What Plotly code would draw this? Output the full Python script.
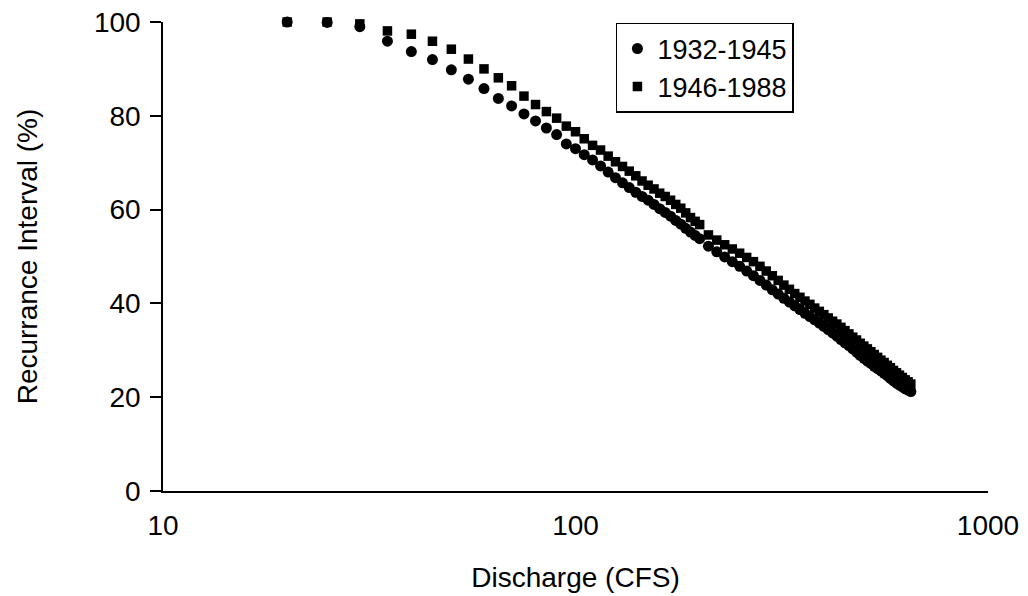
import plotly.graph_objects as go

# Discharge (CFS) values (shared by both periods)
discharge = [20, 25, 30, 35, 40, 45, 50, 55, 60, 65, 70, 75, 80, 85, 90, 95, 100,
             105, 110, 115, 120, 125, 130, 135, 140, 145, 150, 155, 160, 165, 170,
             175, 180, 185, 190, 195, 200,
             210, 220, 230, 240, 250, 260, 270, 280, 290, 300, 310, 320, 330, 340,
             350, 360, 370, 380, 390, 400, 410, 420, 430, 440, 450, 460, 470, 480,
             490, 500, 510, 520, 530, 540, 550, 560, 570, 580, 590, 600, 610, 620,
             630, 640, 650]

# Recurrance interval (%) 1932-1945
ri_1932_1945 = [100.0, 99.9, 99.0, 95.9, 93.7, 92.0, 89.8, 87.8, 85.8, 83.7, 82.1, 80.4,
                78.9, 77.4, 76.0, 74.0, 73.0, 71.7, 70.6, 69.3, 68.0, 66.8, 65.7, 64.7,
                63.7, 62.8, 62.0, 61.1, 60.2, 59.4, 58.6, 57.7, 56.9, 56.0, 55.2, 54.5,
                53.8,
                52.2, 51.0, 49.9, 48.9, 47.9, 46.9, 45.9, 44.9, 43.9, 42.9, 42.0, 41.1,
                40.3, 39.5, 38.7, 37.9, 37.2, 36.5, 35.8, 35.1, 34.4, 33.7, 33.0, 32.3,
                31.6, 31.0, 30.3, 29.6, 28.9, 28.3, 27.7, 27.2, 26.6, 26.1, 25.6, 25.1,
                24.6, 24.0, 23.5, 23.0, 22.6, 22.2, 21.8, 21.5, 21.2]

# Recurrance interval (%) 1946-1988
ri_1946_1988 = [100.0, 100.0, 99.6, 98.1, 97.4, 95.9, 94.2, 92.1, 90.0, 88.1, 86.4, 84.2,
                82.4, 80.9, 79.5, 77.8, 76.6, 75.1, 73.7, 72.7, 71.4, 70.2, 69.2, 68.2,
                67.2, 66.1, 65.2, 64.4, 63.5, 62.8, 62.0, 61.1, 60.3, 59.3, 58.3, 57.5,
                56.8,
                54.6, 53.5, 52.5, 51.6, 50.7, 49.8, 48.9, 47.9, 46.9, 45.9, 44.9, 43.9,
                43.0, 42.1, 41.3, 40.5, 39.8, 39.0, 38.3, 37.6, 36.9, 36.2, 35.6, 34.9,
                34.2, 33.5, 32.8, 32.2, 31.5, 30.9, 30.3, 29.7, 29.1, 28.5, 27.9, 27.4,
                26.8, 26.3, 25.7, 25.2, 24.7, 24.2, 23.7, 23.3, 22.8]

x_tickvals = [10, 100, 1000]
x_ticktext = ["10", "100", "1000"]
y_tickvals = [0, 20, 40, 60, 80, 100]

FONT = "Arial, Liberation Sans, Helvetica, sans-serif"
FS = 28

fig = go.Figure()
fig.add_trace(go.Scatter(
    x=discharge, y=ri_1932_1945, mode="markers", name="1932-1945",
    marker=dict(symbol="circle", size=11, color="black", line=dict(width=0)),
    cliponaxis=False,
))
fig.add_trace(go.Scatter(
    x=discharge, y=ri_1946_1988, mode="markers", name="1946-1988",
    marker=dict(symbol="square", size=9.5, color="black", line=dict(width=0)),
    cliponaxis=False,
))

fig.update_layout(
    width=1028, height=596,
    margin=dict(l=163, r=40, t=22, b=105, autoexpand=False),
    paper_bgcolor="white", plot_bgcolor="white",
    font=dict(family=FONT, size=FS, color="black"),
    showlegend=True,
    legend=dict(
        x=0.549, y=0.998, xanchor="left", yanchor="top",
        bgcolor="white", bordercolor="black", borderwidth=1.5,
        font=dict(family=FONT, size=27, color="black"),
        itemsizing="trace",
    ),
    xaxis=dict(
        type="log", range=[1, 3], automargin=False,
        tickvals=x_tickvals, ticktext=x_ticktext,
        ticks="", showgrid=False, zeroline=False,
        showline=True, linecolor="black", linewidth=2,
        tickfont=dict(family=FONT, size=FS, color="black"),
        ticklabelstandoff=8,
        title=dict(text="Discharge (CFS)", font=dict(family=FONT, size=FS, color="black"), standoff=28),
    ),
    yaxis=dict(
        range=[0, 100], automargin=False,
        tickvals=y_tickvals,
        ticks="outside", ticklen=11, tickwidth=1.5, tickcolor="black",
        showgrid=False, zeroline=False,
        showline=True, linecolor="black", linewidth=1.5,
        tickfont=dict(family=FONT, size=FS, color="black"),
        ticklabelstandoff=4,
        title=dict(text="Recurrance Interval (%)", font=dict(family=FONT, size=FS, color="black"), standoff=48),
    ),
)

fig.write_html("out.html")
